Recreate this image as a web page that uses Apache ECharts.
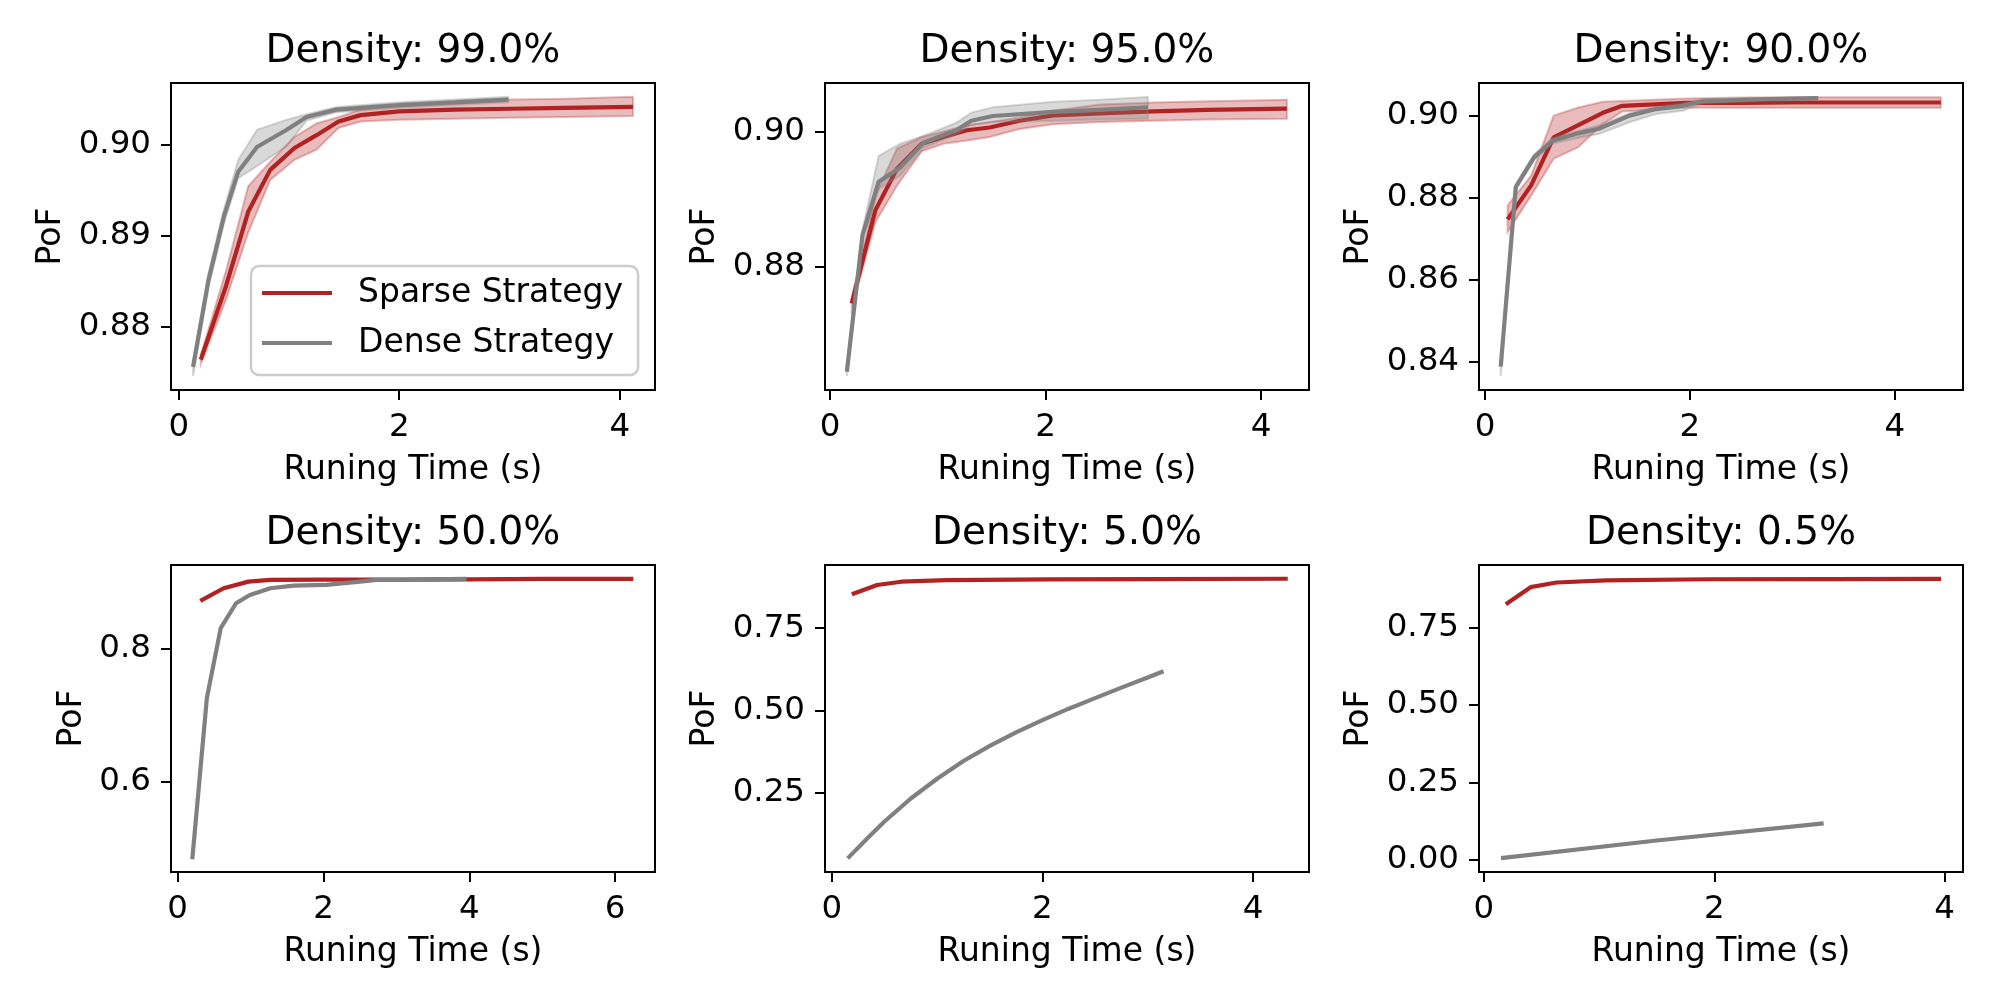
<!DOCTYPE html>
<html>
<head>
<meta charset="utf-8">
<title>PoF vs running time</title>
<script src="https://cdn.jsdelivr.net/npm/echarts@6/dist/echarts.min.js"></script>
<style>
    html, body { margin: 0; padding: 0; background: #fff; }
    #chart { width: 2000px; height: 1000px; }
</style>
</head>
<body>
<div id="chart"></div>
<script>
// ---- data ----
// Density 99.0%
var p1SparseT  = [0.20, 0.43, 0.63, 0.83, 1.05, 1.25, 1.45, 1.65, 2.0, 2.5, 3.0, 3.5, 4.12];
var p1SparseP  = [0.8764, 0.8845, 0.8926, 0.8972, 0.8996, 0.9010, 0.9025, 0.9032, 0.9036, 0.9038, 0.9039, 0.9040, 0.9041];
var p1SparseLo = [0.8759, 0.8830, 0.8903, 0.8961, 0.8983, 0.8994, 0.9018, 0.9025, 0.9027, 0.9028, 0.9029, 0.9030, 0.9031];
var p1SparseHi = [0.8769, 0.8862, 0.8954, 0.8981, 0.9008, 0.9023, 0.9030, 0.9038, 0.9044, 0.9047, 0.9049, 0.9050, 0.9052];
var p1DenseT   = [0.13, 0.27, 0.41, 0.54, 0.71, 0.98, 1.16, 1.43, 2.0, 2.5, 2.99];
var p1DenseP   = [0.8756, 0.8851, 0.8921, 0.8970, 0.8997, 0.9016, 0.9030, 0.9038, 0.9043, 0.9046, 0.9049];
var p1DenseLo  = [0.8746, 0.8843, 0.8913, 0.8963, 0.8976, 0.8998, 0.9026, 0.9035, 0.9040, 0.9043, 0.9046];
var p1DenseHi  = [0.8762, 0.8859, 0.8929, 0.8983, 0.9016, 0.9027, 0.9033, 0.9041, 0.9046, 0.9049, 0.9052];

// Density 95.0%
var p2SparseT  = [0.20, 0.42, 0.62, 0.85, 1.05, 1.27, 1.48, 1.76, 2.07, 2.5, 3.0, 3.5, 4.24];
var p2SparseP  = [0.8746, 0.8884, 0.8945, 0.8982, 0.8992, 0.9002, 0.9006, 0.9016, 0.9024, 0.9027, 0.9030, 0.9032, 0.9034];
var p2SparseLo = [0.8738, 0.8866, 0.8920, 0.8971, 0.8982, 0.8987, 0.8992, 0.9004, 0.9011, 0.9014, 0.9016, 0.9018, 0.9019];
var p2SparseHi = [0.8754, 0.8906, 0.8975, 0.8992, 0.9000, 0.9009, 0.9014, 0.9021, 0.9031, 0.9040, 0.9043, 0.9045, 0.9047];
var p2DenseT   = [0.155, 0.30, 0.45, 0.65, 0.87, 1.17, 1.31, 1.51, 2.07, 2.5, 2.95];
var p2DenseP   = [0.8645, 0.8847, 0.8926, 0.8947, 0.8984, 0.9002, 0.9016, 0.9023, 0.9029, 0.9032, 0.9036];
var p2DenseLo  = [0.8639, 0.8839, 0.8915, 0.8935, 0.8976, 0.8996, 0.9010, 0.9014, 0.9016, 0.9018, 0.9019];
var p2DenseHi  = [0.8651, 0.8855, 0.8964, 0.8982, 0.8994, 0.9013, 0.9028, 0.9036, 0.9044, 0.9047, 0.9051];

// Density 90.0%
var p3SparseT  = [0.22, 0.45, 0.67, 0.91, 1.15, 1.34, 1.96, 2.5, 3.0, 3.5, 4.0, 4.45];
var p3SparseP  = [0.8747, 0.8830, 0.8947, 0.8977, 0.9007, 0.9024, 0.9031, 0.9031, 0.9032, 0.9032, 0.9032, 0.9032];
var p3SparseLo = [0.8716, 0.8805, 0.8895, 0.8923, 0.8980, 0.9010, 0.9020, 0.9019, 0.9019, 0.9019, 0.9019, 0.9019];
var p3SparseHi = [0.8781, 0.8854, 0.9000, 0.9020, 0.9034, 0.9036, 0.9042, 0.9044, 0.9045, 0.9045, 0.9045, 0.9045];
var p3DenseT   = [0.153, 0.30, 0.48, 0.66, 0.89, 1.11, 1.41, 1.67, 1.93, 2.12, 2.7, 3.25];
var p3DenseP   = [0.8388, 0.8826, 0.8899, 0.8939, 0.8956, 0.8968, 0.9000, 0.9016, 0.9024, 0.9035, 0.9040, 0.9043];
var p3DenseLo  = [0.8365, 0.8818, 0.8892, 0.8932, 0.8945, 0.8955, 0.8984, 0.9004, 0.9012, 0.9030, 0.9036, 0.9040];
var p3DenseHi  = [0.8400, 0.8834, 0.8906, 0.8946, 0.8962, 0.8976, 0.9006, 0.9022, 0.9030, 0.9040, 0.9043, 0.9045];

// Density 50.0%
var p4SparseT = [0.31, 0.63, 0.97, 1.27, 2.0, 3.0, 4.0, 5.0, 6.25];
var p4SparseP = [0.872, 0.891, 0.901, 0.9035, 0.904, 0.904, 0.9045, 0.905, 0.905];
var p4DenseT  = [0.20, 0.40, 0.59, 0.80, 0.99, 1.27, 1.59, 2.04, 2.50, 2.73, 3.2, 3.96];
var p4DenseP  = [0.4835, 0.726, 0.831, 0.8685, 0.881, 0.891, 0.895, 0.896, 0.901, 0.9035, 0.904, 0.905];

// Density 5.0%
var p5SparseT = [0.19, 0.43, 0.66, 1.09, 2.07, 3.0, 4.33];
var p5SparseP = [0.853, 0.881, 0.891, 0.896, 0.898, 0.899, 0.900];
var p5DenseT  = [0.15, 0.35, 0.5, 0.75, 1.0, 1.25, 1.5, 1.75, 2.0, 2.25, 2.5, 2.75, 3.0, 3.15];
var p5DenseP  = [0.050, 0.115, 0.162, 0.232, 0.292, 0.346, 0.392, 0.433, 0.470, 0.505, 0.537, 0.569, 0.600, 0.619];

// Density 0.5%
var p6SparseT = [0.19, 0.405, 0.63, 1.06, 1.95, 3.0, 3.97];
var p6SparseP = [0.825, 0.880, 0.895, 0.902, 0.9055, 0.906, 0.9065];
var p6DenseT  = [0.148, 1.5, 2.95];
var p6DenseP  = [0.0064, 0.063, 0.118];

var titles = ['Density: 99.0%', 'Density: 95.0%', 'Density: 90.0%',
              'Density: 50.0%', 'Density: 5.0%', 'Density: 0.5%'];
var xTicks = [[0, 2, 4], [0, 2, 4], [0, 2, 4], [0, 2, 4, 6], [0, 2, 4], [0, 2, 4]];
var yTicks = [[0.88, 0.89, 0.90], [0.88, 0.90], [0.84, 0.86, 0.88, 0.90],
              [0.6, 0.8], [0.25, 0.50, 0.75], [0.00, 0.25, 0.50, 0.75]];
var yDigits = [2, 2, 2, 1, 2, 2];
var xRange = [[-0.07, 4.32], [-0.048, 4.445], [-0.059, 4.666], [-0.092, 6.547], [-0.065, 4.532], [-0.043, 4.16]];
var yRange = [[0.87307, 0.90672], [0.86182, 0.90718], [0.83311, 0.90796],
              [0.4644, 0.926], [0.0085, 0.9418], [-0.0386, 0.9515]];

var sparseSets = [
    [p1SparseT, p1SparseP, p1SparseLo, p1SparseHi],
    [p2SparseT, p2SparseP, p2SparseLo, p2SparseHi],
    [p3SparseT, p3SparseP, p3SparseLo, p3SparseHi],
    [p4SparseT, p4SparseP], [p5SparseT, p5SparseP], [p6SparseT, p6SparseP]
];
var denseSets = [
    [p1DenseT, p1DenseP, p1DenseLo, p1DenseHi],
    [p2DenseT, p2DenseP, p2DenseLo, p2DenseHi],
    [p3DenseT, p3DenseP, p3DenseLo, p3DenseHi],
    [p4DenseT, p4DenseP], [p5DenseT, p5DenseP], [p6DenseT, p6DenseP]
];

// ---- layout ----
var FONT = 'DejaVu Sans';
var RED = '#b22222', GRAY = '#808080';
var RED_FILL = 'rgba(178,34,34,0.3)', GRAY_FILL = 'rgba(128,128,128,0.3)';
var colLeft = [171, 825, 1479], rowTop = [83, 565];
var gridW = 484, gridH = 307;
var yNameGap = [103, 103, 103, 82, 103, 103];

function pairs(t, p) {
    return t.map(function (v, i) { return [v, p[i]]; });
}

// shaded band between lo and hi, drawn as one polygon through the axis scales
function band(idx, t, lo, hi, fill, z) {
    return {
        type: 'custom', xAxisIndex: idx, yAxisIndex: idx, silent: true, z: z,
        data: t.map(function (v, i) { return [v, lo[i], hi[i]]; }),
        encode: { x: 0, y: [1, 2] },
        renderItem: function (params, api) {
            if (params.dataIndex !== 0) return null;
            var pts = [];
            for (var i = 0; i < t.length; i++) pts.push(api.coord([t[i], hi[i]]));
            for (var j = t.length - 1; j >= 0; j--) pts.push(api.coord([t[j], lo[j]]));
            return { type: 'polygon', shape: { points: pts }, style: { fill: fill, stroke: fill, lineWidth: 2 } };
        }
    };
}

function line(idx, name, t, p, color, z) {
    return {
        type: 'line', name: name, xAxisIndex: idx, yAxisIndex: idx, z: z,
        data: pairs(t, p), showSymbol: false, symbol: 'none',
        itemStyle: { color: color },
        lineStyle: { color: color, width: 4.2 }
    };
}

function makeFmt(d) {
    return function (v) { return v.toFixed(d); };
}

function buildOption() {
    var grids = [], xAxes = [], yAxes = [], series = [], titleList = [];
    for (var k = 0; k < 6; k++) {
        var gl = colLeft[k % 3], gt = rowTop[Math.floor(k / 3)];
        grids.push({ left: gl, top: gt, width: gridW, height: gridH, show: true,
                     borderColor: '#000', borderWidth: 2 });
        titleList.push({ text: titles[k], left: gl + gridW / 2, top: gt - 51, textAlign: 'center', padding: 0,
                         textStyle: { fontFamily: FONT, fontSize: 39, fontWeight: 'normal', color: '#000' } });
        xAxes.push({
            type: 'value', gridIndex: k, min: xRange[k][0], max: xRange[k][1],
            name: 'Runing Time (s)', nameLocation: 'middle', nameGap: 64,
            nameTextStyle: { fontFamily: FONT, fontSize: 33, color: '#000' },
            axisLine: { show: true, onZero: false, lineStyle: { color: '#000', width: 2 } },
            axisTick: { show: true, length: 10, customValues: xTicks[k], lineStyle: { color: '#000', width: 2 } },
            axisLabel: { customValues: xTicks[k], margin: 21, fontFamily: FONT, fontSize: 32.5, color: '#000',
                         formatter: function (v) { return String(Math.round(v)); } },
            splitLine: { show: false }
        });
        yAxes.push({
            type: 'value', gridIndex: k, min: yRange[k][0], max: yRange[k][1],
            name: 'PoF', nameLocation: 'middle', nameGap: yNameGap[k],
            nameTextStyle: { fontFamily: FONT, fontSize: 33, color: '#000' },
            axisLine: { show: true, onZero: false, lineStyle: { color: '#000', width: 2 } },
            axisTick: { show: true, length: 10, customValues: yTicks[k], lineStyle: { color: '#000', width: 2 } },
            axisLabel: { customValues: yTicks[k], margin: 20, fontFamily: FONT, fontSize: 32.5, color: '#000',
                         formatter: makeFmt(yDigits[k]) },
            splitLine: { show: false }
        });

        var s = sparseSets[k], dn = denseSets[k];
        if (s.length > 2) series.push(band(k, s[0], s[2], s[3], RED_FILL, 3));
        series.push(line(k, 'Sparse Strategy', s[0], s[1], RED, 4));
        if (dn.length > 2) series.push(band(k, dn[0], dn[2], dn[3], GRAY_FILL, 5));
        series.push(line(k, 'Dense Strategy', dn[0], dn[1], GRAY, 6));
    }
    return {
        backgroundColor: '#fff',
        animation: false,
        title: titleList,
        legend: {
            data: ['Sparse Strategy', 'Dense Strategy'],
            orient: 'vertical', left: 251, top: 266,
            icon: 'rect', itemWidth: 70, itemHeight: 4, itemGap: 10,
            padding: [7, 15, 12, 11],
            backgroundColor: 'rgba(255,255,255,0.8)',
            borderColor: '#cccccc', borderWidth: 2.5, borderRadius: 8,
            selectedMode: false, z: 10,
            textStyle: { fontFamily: FONT, fontSize: 33, color: '#000', lineHeight: 40, padding: [0, 0, 0, 21] }
        },
        grid: grids,
        xAxis: xAxes,
        yAxis: yAxes,
        series: series
    };
}

var myChart = echarts.init(document.getElementById('chart'));
myChart.setOption(buildOption());
window.addEventListener('resize', function () { myChart.resize(); });
</script>
</body>
</html>
